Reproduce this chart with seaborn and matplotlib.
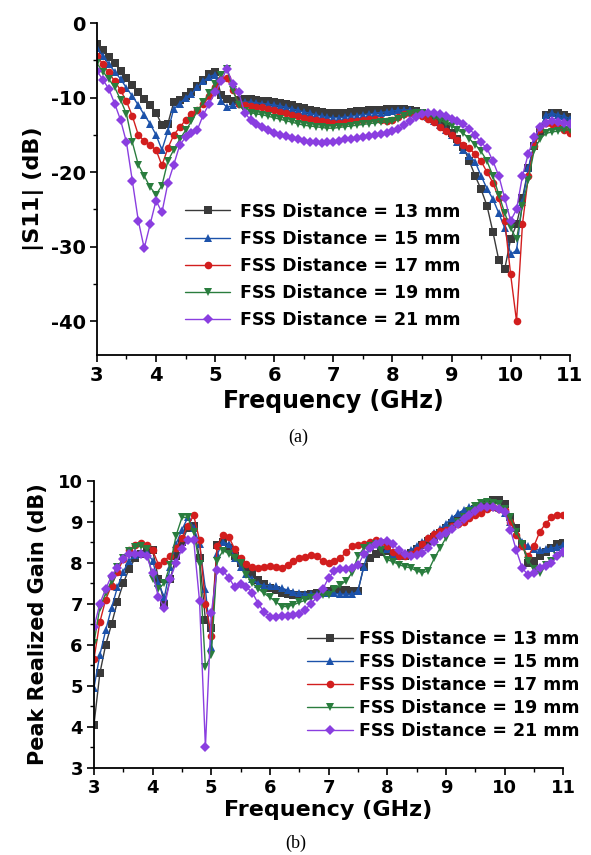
import numpy as np
import pandas as pd
import matplotlib
matplotlib.use("Agg")
import matplotlib.pyplot as plt
import seaborn as sns
from matplotlib.ticker import MultipleLocator

# frequency grid, 0.1 GHz step (3 ... 11 GHz)
freq = np.round(np.linspace(3.0, 11.0, 81), 1)

labels = ["FSS Distance = 13 mm", "FSS Distance = 15 mm", "FSS Distance = 17 mm",
          "FSS Distance = 19 mm", "FSS Distance = 21 mm"]
colors = ["#3a3a3a", "#1c52aa", "#d21e1e", "#2a7d3e", "#8a3ee0"]
marks = ["s", "^", "o", "v", "D"]

# ---- (a) |S11| in dB
s11_13 = [-2.8, -3.6, -4.5, -5.4, -6.4, -7.3, -8.3, -9.3, -10.2, -11.0,
          -12.0, -13.7, -13.5, -10.6, -10.3, -9.8, -9.2, -8.4, -7.6, -6.8,
          -6.6, -9.6, -10.2, -10.4, -10.3, -10.2, -10.2, -10.3, -10.4, -10.5,
          -10.6, -10.7, -10.8, -11.0, -11.2, -11.4, -11.6, -11.8, -11.9, -12.0,
          -12.1, -12.1, -12.0, -11.9, -11.8, -11.8, -11.7, -11.7, -11.6, -11.5,
          -11.5, -11.5, -11.5, -11.6, -11.8, -12.0, -12.3, -12.8, -13.3, -14.0,
          -14.8, -15.6, -16.6, -18.5, -20.5, -22.3, -24.5, -28.0, -31.8, -33.0,
          -29.0, -27.0, -23.5, -19.5, -16.5, -14.5, -12.3, -12.0, -12.1, -12.3, -12.6]
s11_15 = [-3.3, -4.4, -5.5, -6.5, -7.5, -8.7, -9.8, -11.0, -12.3, -13.5,
          -15.0, -17.0, -14.5, -11.5, -10.8, -10.0, -9.5, -8.6, -7.8, -7.2,
          -6.9, -10.5, -11.3, -11.0, -10.7, -10.6, -10.6, -10.7, -10.8, -10.9,
          -11.0, -11.1, -11.3, -11.5, -11.7, -11.9, -12.1, -12.3, -12.5, -12.6,
          -12.7, -12.7, -12.6, -12.5, -12.4, -12.3, -12.2, -12.1, -12.0, -11.9,
          -11.8, -11.7, -11.6, -11.7, -11.9, -12.2, -12.6, -13.1, -13.7, -14.3,
          -15.0, -16.0, -17.0, -17.8, -18.6, -20.5, -22.2, -23.6, -25.5, -27.5,
          -31.0, -30.5, -24.0, -19.5, -16.0, -14.0, -12.3, -12.1, -12.3, -12.5, -12.8]
s11_17 = [-4.4, -5.5, -6.6, -7.8, -9.0, -10.5, -12.5, -15.0, -15.8, -16.4,
          -17.0, -19.1, -16.8, -15.0, -14.0, -13.0, -12.2, -11.6, -10.9, -9.8,
          -8.6, -7.5, -7.4, -9.0, -10.8, -11.0, -11.1, -11.2, -11.3, -11.5,
          -11.7, -11.9, -12.1, -12.3, -12.5, -12.7, -12.9, -13.0, -13.2, -13.3,
          -13.4, -13.4, -13.3, -13.2, -13.1, -13.0, -12.9, -12.9, -13.0, -13.1,
          -13.0, -12.6, -12.2, -12.0, -12.1, -12.4, -12.8, -13.3, -13.9, -14.5,
          -15.0, -15.7, -16.3, -16.8, -17.6, -18.5, -20.0, -21.4, -23.5, -26.5,
          -33.7, -40.0, -27.0, -20.5, -16.5, -14.2, -13.4, -13.6, -13.9, -14.3, -14.7]
s11_19 = [-5.4, -6.5, -7.5, -8.6, -10.3, -12.2, -16.0, -19.0, -20.5, -22.0,
          -23.0, -21.8, -18.5, -17.0, -15.6, -14.4, -13.2, -11.8, -10.6, -9.4,
          -8.2, -7.0, -6.1, -9.0, -11.0, -11.8, -12.0, -12.2, -12.3, -12.5,
          -12.7, -12.9, -13.1, -13.3, -13.5, -13.7, -13.8, -13.9, -14.0, -14.1,
          -14.1, -14.0, -13.9, -13.8, -13.7, -13.6, -13.5, -13.4, -13.3, -13.3,
          -13.2, -12.9, -12.5, -12.2, -12.0, -12.1, -12.3, -12.6, -13.0, -13.4,
          -13.8, -14.3, -14.8, -15.5, -16.3, -17.2, -18.5, -20.5, -23.0, -25.5,
          -27.5, -29.0, -24.5, -21.0, -17.0, -15.5, -14.8, -14.6, -14.5, -14.4, -14.3]
s11_21 = [-6.4, -7.6, -8.8, -10.8, -13.0, -16.0, -21.2, -26.5, -30.2, -27.0,
          -23.8, -25.4, -21.5, -19.0, -16.4, -15.3, -14.8, -14.3, -12.3, -10.8,
          -9.3, -7.8, -6.1, -8.2, -9.3, -12.0, -13.0, -13.6, -14.0, -14.4,
          -14.7, -15.0, -15.2, -15.4, -15.6, -15.8, -15.9, -16.0, -16.1, -16.0,
          -15.9, -15.8, -15.6, -15.5, -15.4, -15.3, -15.2, -15.0, -14.9, -14.7,
          -14.5, -14.2, -13.7, -13.2, -12.6, -12.2, -12.0, -12.0, -12.2, -12.5,
          -12.8, -13.1, -13.6, -14.2, -15.0, -16.0, -16.8, -18.5, -20.5, -23.5,
          -26.5, -25.0, -20.5, -17.5, -15.3, -14.0, -13.4, -13.2, -13.3, -13.4, -13.5]

# ---- (b) peak realized gain in dB
gain_13 = [4.05, 5.3, 6.0, 6.5, 7.05, 7.5, 7.85, 8.1, 8.22, 8.3,
           8.3, 7.6, 7.0, 7.6, 8.15, 8.5, 8.85, 8.9, 8.1, 6.6,
           6.4, 8.44, 8.5, 8.35, 8.15, 8.0, 7.9, 7.72, 7.58, 7.47,
           7.38, 7.32, 7.27, 7.23, 7.22, 7.22, 7.22, 7.24, 7.26, 7.28,
           7.3, 7.32, 7.33, 7.32, 7.31, 7.31, 7.9, 8.1, 8.2, 8.25,
           8.28, 8.22, 8.15, 8.15, 8.23, 8.33, 8.43, 8.52, 8.62, 8.72,
           8.85, 8.97, 9.07, 9.15, 9.23, 9.3, 9.37, 9.45, 9.53, 9.53,
           9.42, 9.12, 8.85, 8.45, 8.0, 8.05, 8.15, 8.25, 8.35, 8.45, 8.48]
gain_15 = [4.95, 5.75, 6.35, 6.9, 7.4, 7.78, 8.05, 8.18, 8.23, 8.25,
           8.05, 7.5, 7.15, 7.9, 8.45, 8.8, 9.1, 8.85, 8.45, 7.35,
           5.95, 8.2, 8.5, 8.45, 8.1, 7.9, 7.72, 7.6, 7.48, 7.44,
           7.44, 7.42, 7.38, 7.33, 7.28, 7.26, 7.24, 7.23, 7.24, 7.26,
           7.27, 7.25, 7.23, 7.23, 7.23, 7.3, 7.9, 8.4, 8.45, 8.42,
           8.32, 8.22, 8.15, 8.2, 8.3, 8.4, 8.5, 8.6, 8.72, 8.82,
           8.95, 9.08, 9.2, 9.28, 9.35, 9.39, 9.38, 9.35, 9.35, 9.33,
           9.2, 9.0, 8.72, 8.5, 8.4, 8.33, 8.3, 8.32, 8.35, 8.38, 8.42]
gain_17 = [5.65, 6.55, 7.1, 7.44, 7.78, 8.08, 8.3, 8.42, 8.48, 8.43,
           8.3, 7.95, 8.05, 8.17, 8.35, 8.6, 8.9, 9.15, 8.55, 7.0,
           6.2, 8.4, 8.68, 8.62, 8.33, 8.1, 7.97, 7.9, 7.88, 7.9,
           7.92, 7.9, 7.88, 7.95, 8.05, 8.1, 8.13, 8.18, 8.15, 8.03,
           8.0, 8.05, 8.12, 8.25, 8.4, 8.42, 8.45, 8.5, 8.56, 8.5,
           8.4, 8.25, 8.17, 8.15, 8.22, 8.3, 8.45, 8.6, 8.7, 8.78,
           8.8, 8.88, 8.95, 9.0, 9.08, 9.15, 9.2, 9.3, 9.35, 9.3,
           9.27, 9.0, 8.68, 8.4, 8.15, 8.4, 8.75, 8.95, 9.1, 9.17, 9.15]
gain_19 = [6.05, 6.9, 7.25, 7.56, 7.9, 8.1, 8.29, 8.38, 8.4, 8.33,
           7.6, 7.36, 7.5, 7.95, 8.66, 9.1, 9.1, 8.74, 7.97, 5.45,
           5.75, 8.05, 8.29, 8.22, 8.1, 8.0, 7.7, 7.5, 7.36, 7.25,
           7.15, 7.05, 6.93, 6.93, 6.97, 7.03, 7.08, 7.13, 7.17, 7.2,
           7.22, 7.35, 7.45, 7.56, 7.75, 8.15, 8.35, 8.4, 8.45, 8.3,
           8.07, 8.02, 7.95, 7.9, 7.87, 7.8, 7.75, 7.8, 8.1, 8.35,
           8.6, 8.82, 9.0, 9.1, 9.25, 9.39, 9.45, 9.47, 9.45, 9.43,
           9.3, 9.1, 8.75, 8.45, 8.05, 7.85, 7.75, 7.95, 8.05, 8.15, 8.2]
gain_21 = [6.42, 7.0, 7.36, 7.68, 7.88, 8.09, 8.21, 8.22, 8.2, 8.15,
           7.75, 7.15, 6.9, 7.6, 8.0, 8.33, 8.54, 8.55, 7.06, 3.5,
           6.77, 7.83, 7.8, 7.63, 7.4, 7.48, 7.4, 7.27, 7.0, 6.8,
           6.68, 6.68, 6.7, 6.7, 6.72, 6.75, 6.85, 7.0, 7.15, 7.35,
           7.63, 7.8, 7.85, 7.85, 7.88, 7.93, 8.2, 8.35, 8.45, 8.5,
           8.53, 8.45, 8.3, 8.22, 8.16, 8.18, 8.24, 8.35, 8.5, 8.65,
           8.72, 8.82, 8.95, 9.05, 9.15, 9.25, 9.35, 9.35, 9.35, 9.3,
           9.23, 8.8, 8.3, 7.87, 7.7, 7.75, 7.86, 7.92, 7.98, 8.15, 8.27]


def long_df(series):
    frames = []
    for lab, vals in zip(labels, series):
        frames.append(pd.DataFrame({"f": freq, "v": vals, "case": lab}))
    return pd.concat(frames, ignore_index=True)


df_a = long_df([s11_13, s11_15, s11_17, s11_19, s11_21])
df_b = long_df([gain_13, gain_15, gain_17, gain_19, gain_21])

sns.set_style("ticks", {"axes.edgecolor": "black", "xtick.color": "black",
                        "ytick.color": "black", "text.color": "black",
                        "axes.labelcolor": "black"})
plt.rcParams["font.family"] = ["DejaVu Sans"]
plt.rcParams["font.weight"] = "bold"
plt.rcParams["axes.unicode_minus"] = False

fig = plt.figure(figsize=(5.91, 8.55), dpi=100)
ax1 = fig.add_axes([0.164, 0.585, 0.800, 0.388])
ax2 = fig.add_axes([0.159, 0.102, 0.794, 0.336])

pal = dict(zip(labels, colors))
mk = dict(zip(labels, marks))

for ax, df in [(ax1, df_a), (ax2, df_b)]:
    sns.lineplot(data=df, x="f", y="v", hue="case", style="case", ax=ax,
                 palette=pal, markers=mk, dashes=False, linewidth=1.0,
                 markersize=5.5, markeredgewidth=0, sort=False)
    for side in ["top", "right"]:
        ax.spines[side].set_visible(False)
    for side in ["left", "bottom"]:
        ax.spines[side].set_linewidth(1.3)
    ax.set_xlim(3, 11)
    ax.xaxis.set_major_locator(MultipleLocator(1))
    ax.xaxis.set_minor_locator(MultipleLocator(0.5))
    ax.tick_params(which="major", direction="out", length=5, width=1.2, pad=3)
    ax.tick_params(which="minor", direction="out", length=3, width=1.0)

ax1.set_xlabel("Frequency (GHz)", fontsize=17, fontweight="bold", labelpad=3)
ax1.set_ylim(-44.5, 0)
ax1.yaxis.set_major_locator(MultipleLocator(10))
ax1.yaxis.set_minor_locator(MultipleLocator(5))
ax1.set_ylabel("|S11| (dB)", fontsize=16, fontweight="bold", labelpad=5)
ax1.tick_params(labelsize=14)
sns.move_legend(ax1, "upper left", bbox_to_anchor=(0.172, 0.48), title=None,
                frameon=False, fontsize=12.5, handlelength=2.6, labelspacing=0.53,
                handletextpad=0.55, borderaxespad=0)

ax2.set_xlabel("Frequency (GHz)", fontsize=16, fontweight="bold", labelpad=2)
ax2.set_ylim(3, 10)
ax2.yaxis.set_major_locator(MultipleLocator(1))
ax2.yaxis.set_minor_locator(MultipleLocator(0.5))
ax2.set_ylabel("Peak Realized Gain (dB)", fontsize=15, fontweight="bold", labelpad=7)
ax2.tick_params(labelsize=13)
sns.move_legend(ax2, "upper left", bbox_to_anchor=(0.44, 0.505), title=None,
                frameon=False, fontsize=12.5, handlelength=2.6, labelspacing=0.29,
                handletextpad=0.4, borderaxespad=0)

fig.text(0.505, 0.489, "(a)", ha="center", va="center", fontsize=13,
         fontweight="normal", family=["Liberation Serif", "DejaVu Serif"])
fig.text(0.5, 0.014, "(b)", ha="center", va="center", fontsize=13,
         fontweight="normal", family=["Liberation Serif", "DejaVu Serif"])

fig.savefig("out.png", dpi=100)
